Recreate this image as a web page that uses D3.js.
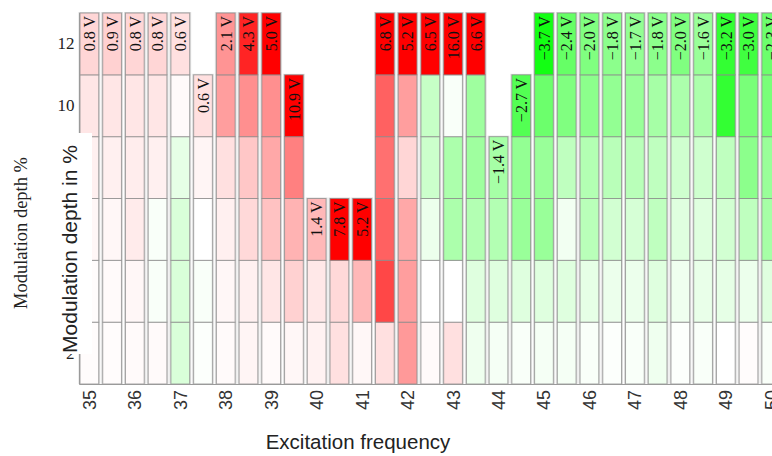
<!DOCTYPE html>
<html>
<head>
<meta charset="utf-8">
<script src="https://cdn.jsdelivr.net/npm/d3@7"></script>
<style>
  body { margin: 0; background: #fff; }
  svg { display: block; }
</style>
</head>
<body>
<div id="chart"></div>
<script>
// excitation frequencies (one column each) and modulation depths (rows)
var freqs = [35, 35.5, 36, 36.5, 37, 37.5, 38, 38.5, 39, 39.5, 40, 40.5, 41, 41.5, 42, 42.5,
             43, 43.5, 44, 44.5, 45, 45.5, 46, 46.5, 47, 47.5, 48, 48.5, 49, 49.5, 50];
var depths = [12, 10, 8, 6, 4, 2];
var freqTicks = [35, 36, 37, 38, 39, 40, 41, 42, 43, 44, 45, 46, 47, 48, 49, 50];

// voltage per cell, one array per depth row (null = not measured)
var depth2  = [0.05, 0.05, 0.1, 0.1, -0.6, -0.05, 0.1, 0.2, 0.1, 0.15, 0.25, 0.6, 0.15, 0.6, 2.0, 0.1,
               0.6, -0.25, -0.15, -0.1, -0.15, -0.15, -0.1, -0.05, -0.1, -0.25, -0.05, -0.1, 0, 0.05, -0.1];
var depth4  = [0.05, 0.1, 0.15, -0.1, -0.6, -0.1, 0.15, 0.3, 0.5, 0.9, 0.45, 0.75, 1.4, 3.6, 1.9, 0,
               0, -0.5, -0.5, -0.5, -0.5, -0.5, -0.4, -0.3, -0.3, -0.5, -0.25, -0.35, -0.4, -0.3, -0.5];
var depth6  = [0.15, 0.15, 0.4, -0.1, -0.6, 0, 0.3, 0.75, 1.2, 1.5, 1.4, 7.8, 5.2, 3.1, 1.7, -0.3,
               -1.3, -1.2, -1.2, -1.6, -1.6, -0.2, -1.1, -0.7, -0.65, -1.0, -0.5, -0.5, -0.7, -1.0, -1.4];
var depth8  = [0.3, 0.3, 0.35, 0.3, -0.4, 0.2, 0.6, 1.1, 1.7, 2.5, null, null, null, 2.8, 0.8, -0.8,
               -1.3, -1.5, -1.4, -1.7, -1.6, -1.0, -1.2, -1.1, -1.1, -1.0, -0.75, -0.75, -1.0, -1.8, -1.6];
var depth10 = [0.5, 0.5, 0.5, 0.5, 0.1, 0.6, 1.9, 2.2, 2.2, 10.9, null, null, null, 3.1, 1.9, -0.9,
               -0.1, -1.5, null, -2.7, -2.3, -2.0, -1.8, -1.7, -1.6, -1.4, -1.3, -1.3, -3.2, -2.1, -2.1];
var depth12 = [0.8, 0.9, 0.8, 0.8, 0.6, null, 2.1, 4.3, 5.0, null, null, null, null, 6.8, 5.2, 6.5,
               16.0, 6.6, null, null, -3.7, -2.4, -2.0, -1.8, -1.7, -1.8, -2.0, -1.6, -3.2, -3.0, -2.3];

var rows = { 2: depth2, 4: depth4, 6: depth6, 8: depth8, 10: depth10, 12: depth12 };

var width = 772, height = 456;

var svg = d3.select("#chart").append("svg")
    .attr("width", width)
    .attr("height", height);

var x = d3.scaleBand()
    .domain(freqs)
    .range([78, 78 + freqs.length * 22.73]);
var y = d3.scaleBand()
    .domain(depths)
    .range([13, 384]);

// red for positive voltage, green for negative
var colour = d3.scaleLinear()
    .domain([-4, 0, 5])
    .range(["#00ff00", "#ffffff", "#ff0000"])
    .clamp(true);

// build cells and find the top cell in each column
var cells = [], tops = [];
freqs.forEach(function(f, i) {
  var top = null;
  depths.slice().reverse().forEach(function(dp) {
    var v = rows[dp][i];
    if (v === null) return;
    var c = { freq: f, depth: dp, value: v };
    cells.push(c);
    top = c;
  });
  if (top) tops.push(top);
});

// light grey backing behind each column (gives the double border look)
svg.append("g").selectAll("rect")
    .data(tops)
    .enter().append("rect")
      .attr("x", function(d) { return x(d.freq) + 0.5; })
      .attr("y", function(d) { return y(d.depth) - 1; })
      .attr("width", x.step() - 1)
      .attr("height", function(d) { return 384 - y(d.depth) + 1; })
      .style("fill", "#dedede");

svg.append("g").selectAll("rect")
    .data(cells)
    .enter().append("rect")
      .attr("x", function(d) { return x(d.freq) + 2; })
      .attr("y", function(d) { return y(d.depth); })
      .attr("width", x.step() - 4)
      .attr("height", y.bandwidth())
      .style("fill", function(d) { return colour(d.value); })
      .style("stroke", "#8a8a8a")
      .style("stroke-opacity", 0.75)
      .style("stroke-width", 1);

var fmt = d3.format(".1f");
svg.append("g").selectAll("text")
    .data(tops)
    .enter().append("text")
      .attr("transform", function(d) {
        return "translate(" + (x(d.freq) + x.step() / 2 + 0.5) + "," + (y(d.depth) + 3) + ") rotate(-90)";
      })
      .attr("dy", "0.33em")
      .attr("text-anchor", "end")
      .style("font-family", "'Liberation Serif', 'DejaVu Serif', serif")
      .style("font-size", "16px")
      .style("fill", "#111")
      .text(function(d) { return fmt(d.value) + " V"; });

// axes
var xAxis = svg.append("g")
    .attr("transform", "translate(0,384)")
    .call(d3.axisBottom(x).tickValues(freqTicks).tickSize(0).tickPadding(6));
xAxis.select(".domain").attr("d", "M79.5,0.5H" + width).style("stroke", "#9a9a9a");
xAxis.selectAll("text")
    .attr("transform", "rotate(-90)")
    .attr("x", -6)
    .attr("y", 0)
    .attr("dy", "0.36em")
    .attr("text-anchor", "end")
    .style("font-family", "'Liberation Sans', Arial, sans-serif")
    .style("font-size", "18px")
    .style("fill", "#333");

var yAxis = svg.append("g")
    .attr("transform", "translate(79.5,0)")
    .call(d3.axisLeft(y).tickSize(0).tickPadding(5));
yAxis.select(".domain").attr("d", "M0,13V384.5").style("stroke", "#9a9a9a");
yAxis.selectAll("text")
    .style("font-family", "'Liberation Serif', 'DejaVu Serif', serif")
    .style("font-size", "17px")
    .style("fill", "#222");

// original y label
svg.append("text")
    .attr("transform", "translate(27,233) rotate(-90)")
    .attr("text-anchor", "middle")
    .attr("textLength", 152)
    .attr("lengthAdjust", "spacingAndGlyphs")
    .style("font-family", "'Liberation Serif', 'DejaVu Serif', serif")
    .style("font-size", "18px")
    .style("fill", "#222")
    .text("Modulation depth %");

// pasted-over label box
svg.append("rect")
    .attr("x", 50).attr("y", 133)
    .attr("width", 42).attr("height", 221)
    .style("fill", "#fff");
svg.append("text")
    .attr("transform", "translate(77,249) rotate(-90)")
    .attr("text-anchor", "middle")
    .style("font-family", "'Liberation Sans', Arial, sans-serif")
    .style("font-size", "21px")
    .style("fill", "#222")
    .text("Modulation depth in %");

svg.append("text")
    .attr("x", 358)
    .attr("y", 449)
    .attr("text-anchor", "middle")
    .style("font-family", "'Liberation Sans', Arial, sans-serif")
    .style("font-size", "20.5px")
    .style("fill", "#222")
    .text("Excitation frequency");
</script>
</body>
</html>
